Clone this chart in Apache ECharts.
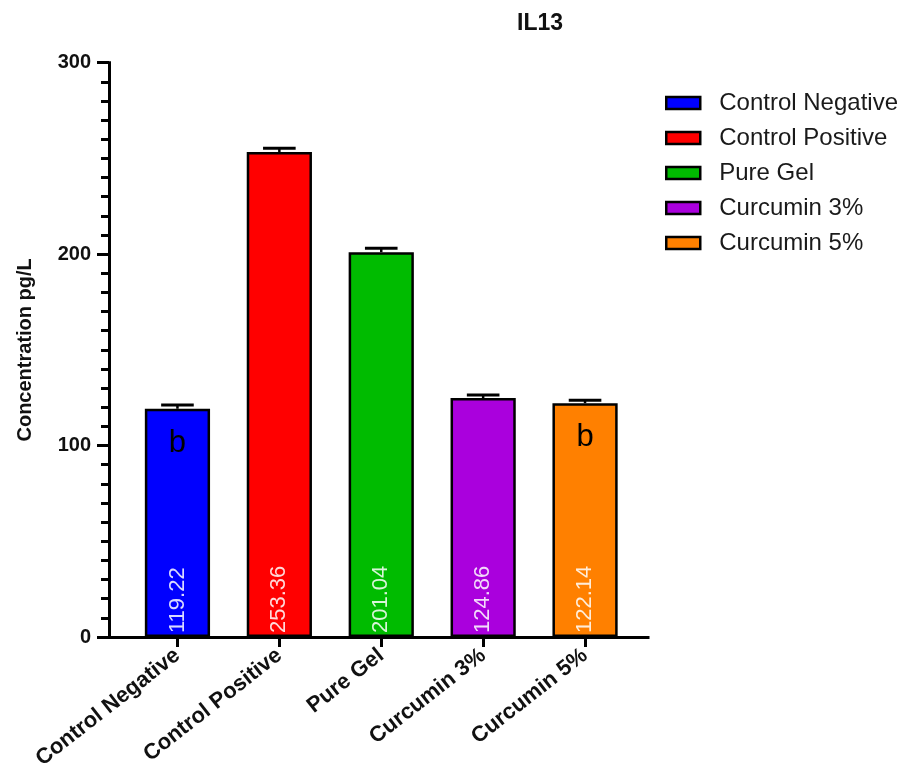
<!DOCTYPE html>
<html>
<head>
<meta charset="utf-8">
<script src="https://cdn.jsdelivr.net/npm/echarts@6/dist/echarts.min.js"></script>
<style>
html,body{margin:0;padding:0;background:#fff;}
#chart{width:919px;height:774px;}
</style>
</head>
<body>
<div id="chart"></div>
<script>
const categories = ['Control Negative', 'Control Positive', 'Pure Gel', 'Curcumin 3%', 'Curcumin 5%'];
const values = [119.22, 253.36, 201.04, 124.86, 122.14];
const errors = [2.0, 2.0, 2.0, 1.5, 1.5];
const letters = ['b', '', '', '', 'b'];
const colors = ['#0000ff', '#ff0000', '#00bb00', '#aa00dd', '#ff8000'];
const yTicks = { min: 0, max: 300, interval: 100 };

const FONT = '"Liberation Sans", Arial, sans-serif';
const BARW = '64%';

const barSeries = categories.map((name, i) => ({
  name: name,
  type: 'bar',
  stack: 'all',
  xAxisIndex: 0,
  yAxisIndex: 0,
  barWidth: BARW,
  data: categories.map((c, j) => (j === i ? values[i] : '-')),
  itemStyle: { color: colors[i], borderColor: '#000', borderWidth: 2.5 },
  label: {
    show: true,
    position: 'insideBottom',
    rotate: 90,
    align: 'left',
    verticalAlign: 'middle',
    distance: 4,
    formatter: p => p.value.toFixed(2),
    color: 'rgba(255,255,255,0.85)',
    fontFamily: FONT,
    fontSize: 22
  }
}));

const errSeries = {
  type: 'custom',
  name: 'err',
  xAxisIndex: 0,
  yAxisIndex: 0,
  z: 5,
  data: categories.map((c, i) => [i, values[i], errors[i]]),
  renderItem: function (params, api) {
    const x = api.value(0);
    const v = api.value(1);
    const e = api.value(2);
    const letter = letters[params.dataIndex];
    const base = api.coord([x, v]);
    const top = api.coord([x, v + e]);
    const band = api.size([1, 0])[0];
    const half = band * 0.64 * 0.25;
    const children = [
      { type: 'line', shape: { x1: base[0], y1: base[1], x2: top[0], y2: top[1] }, style: { stroke: '#000', lineWidth: 2.5 } },
      { type: 'line', shape: { x1: top[0] - half, y1: top[1], x2: top[0] + half, y2: top[1] }, style: { stroke: '#000', lineWidth: 3 } }
    ];
    if (letter) {
      children.push({
        type: 'text',
        x: base[0], y: base[1] + 19,
        style: { text: letter, fill: '#000', font: '31px ' + FONT, textAlign: 'center', textVerticalAlign: 'top' }
      });
    }
    return { type: 'group', children: children };
  }
};

const chart = echarts.init(document.getElementById('chart'));
chart.setOption({
  animation: false,
  backgroundColor: '#fff',
  title: {
    text: 'IL13',
    left: 535,
    textAlign: 'center',
    top: 7,
    textStyle: { fontFamily: FONT, fontWeight: 'bold', fontSize: 23, color: '#111' }
  },
  legend: {
    orient: 'vertical',
    left: 660,
    top: 86,
    itemWidth: 34,
    itemHeight: 12,
    itemGap: 11,
    icon: 'rect',
    itemStyle: { borderColor: '#000', borderWidth: 2.5 },
    data: categories,
    textStyle: { fontFamily: FONT, fontSize: 24, color: '#1a1a1a', padding: [0, 0, 0, 14] }
  },
  grid: [
    { left: 126.5, right: 283, top: 62.7, bottom: 137 },
    { left: 109, right: 271, top: 62.7, bottom: 137 }
  ],
  xAxis: [
    {
      type: 'category',
      gridIndex: 0,
      data: categories,
      axisLine: { show: true, lineStyle: { color: '#000', width: 3 } },
      axisTick: { show: true, alignWithLabel: true, length: 10, lineStyle: { color: '#000', width: 3 } },
      axisLabel: { rotate: 38, margin: 16, fontFamily: FONT, fontWeight: 'bold', fontSize: 22, color: '#111', interval: 0 },
      splitLine: { show: false }
    },
    {
      type: 'value',
      gridIndex: 1,
      min: 0, max: 1,
      axisLine: { show: true, lineStyle: { color: '#000', width: 3, cap: 'square' } },
      axisTick: { show: false },
      axisLabel: { show: false },
      splitLine: { show: false }
    }
  ],
  yAxis: [
    { type: 'value', gridIndex: 0, min: yTicks.min, max: yTicks.max, interval: yTicks.interval, show: false, splitLine: { show: false } },
    {
      type: 'value',
      gridIndex: 1,
      min: yTicks.min, max: yTicks.max, interval: yTicks.interval,
      name: 'Concentration pg/L',
      nameLocation: 'middle',
      nameGap: 74,
      nameTextStyle: { fontFamily: FONT, fontWeight: 'bold', fontSize: 20, color: '#111' },
      axisLine: { show: true, lineStyle: { color: '#000', width: 3, cap: 'square' } },
      axisTick: { show: true, length: 12, lineStyle: { color: '#000', width: 3 } },
      minorTick: { show: true, splitNumber: 10, length: 8, lineStyle: { color: '#000', width: 3 } },
      axisLabel: { margin: 18, fontFamily: FONT, fontWeight: 'bold', fontSize: 20, color: '#111' },
      splitLine: { show: false }
    }
  ],
  series: barSeries.concat([errSeries])
});
</script>
</body>
</html>
